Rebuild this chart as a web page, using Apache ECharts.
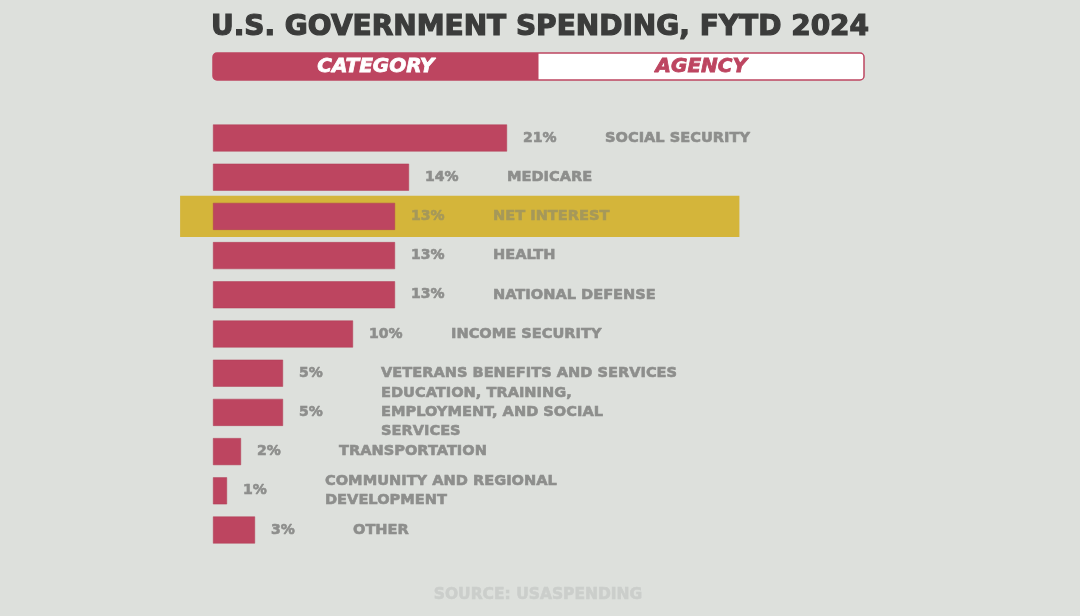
<!DOCTYPE html>
<html><head><meta charset="utf-8">
<script src="https://cdn.jsdelivr.net/npm/echarts@6/dist/echarts.min.js"></script>
<style>html,body{margin:0;padding:0;background:#dde0dc;}#c{width:1080px;height:616px;}</style>
</head><body><div id="c"></div>
<script>
const categories = ['SOCIAL SECURITY','MEDICARE','NET INTEREST','HEALTH','NATIONAL DEFENSE','INCOME SECURITY','VETERANS BENEFITS AND SERVICES','EDUCATION, TRAINING,\nEMPLOYMENT, AND SOCIAL\nSERVICES','TRANSPORTATION','COMMUNITY AND REGIONAL\nDEVELOPMENT','OTHER'];
const shares = [21,14,13,13,13,10,5,5,2,1,3];
const highlighted = 'NET INTEREST';
const titleText = 'U.S. GOVERNMENT SPENDING, FYTD 2024';
const tabs = ['CATEGORY','AGENCY'];
const sourceText = 'SOURCE: USASPENDING';

const FONT = '"DejaVu Sans", sans-serif';
const RED = '#bd4560';
const GRAY = '#8d8e8c';
const YELLOW = '#d4b53a';
const ONYELLOW = '#a5985a';

const chart = echarts.init(document.getElementById('c'), null, {renderer:'canvas'});
const hl = i => categories[i]===highlighted ? {color:ONYELLOW,textBorderColor:ONYELLOW} : undefined;
const pctData = shares.map((v,i)=>({value:v,label:hl(i)}));
const nameData = shares.map((v,i)=>({value:v,label:hl(i)}));

chart.setOption({
  backgroundColor:'#dde0dc',
  animation:false,
  title:{text:titleText,left:'center',top:9,
    textStyle:{fontFamily:FONT,fontWeight:'bold',fontSize:28,color:'#3b3c3b',
      textBorderColor:'#3b3c3b',textBorderWidth:1.2}},
  grid:{left:213,top:118.4,width:420,height:431.2},
  xAxis:{type:'value',min:0,max:30,show:false},
  yAxis:{type:'category',data:categories,inverse:true,show:false},
  series:[
    {type:'bar',data:pctData,barWidth:27,z:3,
     itemStyle:{color:RED,borderColor:'#b03c55',borderWidth:0.5},
     label:{show:true,position:'right',distance:16,formatter:p=>p.value+'%',
       fontFamily:FONT,fontWeight:'bold',fontSize:14,color:GRAY,
       textBorderColor:GRAY,textBorderWidth:0.6}},
    {type:'bar',data:nameData,barWidth:27,barGap:'-100%',z:2,
     itemStyle:{color:'rgba(0,0,0,0)'},
     label:{show:true,position:'right',distance:98,formatter:p=>p.name,
       fontFamily:FONT,fontWeight:'bold',fontSize:14.6,lineHeight:19,color:GRAY,align:'left',
       textBorderColor:GRAY,textBorderWidth:0.6}}
  ],
  graphic:[]
});

function layout(){
  const idx = categories.indexOf(highlighted);
  const yc = chart.convertToPixel({yAxisIndex:0}, idx);
  const band = 431.2/categories.length;
  const x0 = chart.convertToPixel({xAxisIndex:0}, -2.35);
  const x1 = chart.convertToPixel({xAxisIndex:0}, 37.6);
  const h = band*1.05;
  const tx0 = chart.convertToPixel({xAxisIndex:0}, 0);
  const tx1 = chart.convertToPixel({xAxisIndex:0}, 46.5);
  const tmid = (tx0+tx1)/2;
  chart.setOption({graphic:[
    {type:'rect',z:1,shape:{x:x0,y:yc-h/2,width:x1-x0,height:h},style:{fill:YELLOW}},
    {type:'rect',z:5,shape:{x:tx0,y:53,width:tx1-tx0,height:27,r:4},style:{fill:'#ffffff',stroke:RED,lineWidth:1.5}},
    {type:'rect',z:6,shape:{x:tx0,y:53,width:tmid-tx0,height:27,r:[4,0,0,4]},style:{fill:RED}},
    {type:'text',z:7,x:(tx0+tmid)/2,y:66.5,style:{text:tabs[0],align:'center',verticalAlign:'middle',
      font:'italic bold 20px '+FONT,fill:'#ffffff',stroke:'#ffffff',lineWidth:0.8}},
    {type:'text',z:7,x:(tmid+tx1)/2,y:66.5,style:{text:tabs[1],align:'center',verticalAlign:'middle',
      font:'italic bold 20px '+FONT,fill:RED,stroke:RED,lineWidth:0.8}},
    {type:'text',z:7,x:538,y:595,style:{text:sourceText,align:'center',verticalAlign:'middle',
      font:'bold 15.5px '+FONT,fill:'#cbcecb',stroke:'#cbcecb',lineWidth:0.6}}
  ]});
}
layout();
</script></body></html>
